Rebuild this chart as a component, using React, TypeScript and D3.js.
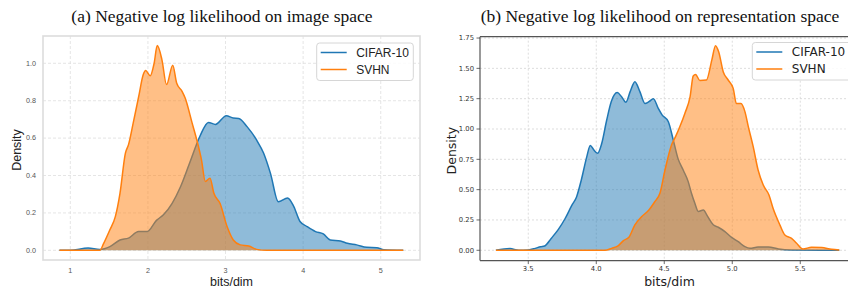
import * as d3 from "d3";

// ---- data ----
// (a) image space
const imgCifarX = [0.86, 1.0, 1.23, 1.38, 1.51, 1.64, 1.75, 1.88, 1.99, 2.11, 2.2, 2.31, 2.42, 2.54, 2.67, 2.78, 2.87, 3.01, 3.1, 3.17, 3.28, 3.4, 3.49, 3.58, 3.68, 3.8, 3.88, 3.96, 4.05, 4.16, 4.26, 4.35, 4.48, 4.57, 4.69, 4.82, 4.95, 5.04, 5.29];
const imgCifarY = [0.0, 0.0, 0.012, 0.005, 0.02, 0.055, 0.065, 0.1, 0.1, 0.16, 0.19, 0.25, 0.34, 0.47, 0.61, 0.684, 0.673, 0.72, 0.707, 0.705, 0.66, 0.59, 0.52, 0.41, 0.26, 0.28, 0.234, 0.154, 0.127, 0.1, 0.0875, 0.055, 0.05, 0.0375, 0.029, 0.016, 0.014, 0.003, 0.0];
const imgSvhnX = [0.86, 1.2, 1.38, 1.43, 1.51, 1.58, 1.64, 1.71, 1.75, 1.81, 1.88, 1.94, 1.97, 2.03, 2.08, 2.12, 2.18, 2.24, 2.32, 2.37, 2.44, 2.48, 2.57, 2.63, 2.69, 2.74, 2.8, 2.85, 2.93, 3.02, 3.1, 3.19, 3.3, 3.4, 3.53, 4.0, 5.29];
const imgSvhnY = [0.0, 0.0, 0.0, 0.0375, 0.11, 0.18, 0.305, 0.52, 0.565, 0.68, 0.82, 0.94, 0.962, 0.934, 1.0, 1.095, 1.02, 0.886, 0.99, 0.895, 0.85, 0.814, 0.68, 0.59, 0.484, 0.368, 0.386, 0.305, 0.25, 0.127, 0.055, 0.029, 0.023, 0.005, 0.0, 0.0, 0.0];
const imgXTicks = [1, 2, 3, 4, 5];
const imgYTicks = [0.0, 0.2, 0.4, 0.6, 0.8, 1.0];

// (b) representation space
const repCifarX = [3.262, 3.365, 3.43, 3.5, 3.55, 3.59, 3.62, 3.67, 3.72, 3.77, 3.82, 3.855, 3.89, 3.93, 3.956, 3.98, 4.01, 4.04, 4.076, 4.11, 4.154, 4.186, 4.218, 4.25, 4.284, 4.32, 4.358, 4.387, 4.42, 4.456, 4.485, 4.53, 4.566, 4.6, 4.64, 4.676, 4.7, 4.725, 4.75, 4.787, 4.82, 4.86, 4.897, 4.946, 4.995, 5.044, 5.093, 5.13, 5.19, 5.265, 5.34, 5.436, 5.787];
const repCifarY = [0.0, 0.014, 0.0, 0.003, 0.016, 0.03, 0.036, 0.1, 0.17, 0.26, 0.37, 0.44, 0.58, 0.77, 0.865, 0.83, 0.8, 0.88, 1.07, 1.225, 1.3, 1.266, 1.22, 1.31, 1.39, 1.31, 1.21, 1.225, 1.25, 1.17, 1.115, 1.06, 0.91, 0.76, 0.66, 0.566, 0.47, 0.387, 0.32, 0.332, 0.277, 0.21, 0.19, 0.154, 0.107, 0.071, 0.03, 0.016, 0.027, 0.027, 0.011, 0.003, 0.0];
const repSvhnX = [3.262, 3.8, 4.064, 4.113, 4.16, 4.2, 4.24, 4.284, 4.333, 4.387, 4.43, 4.468, 4.505, 4.554, 4.583, 4.615, 4.652, 4.69, 4.713, 4.73, 4.762, 4.81, 4.85, 4.877, 4.9, 4.934, 4.97, 5.007, 5.03, 5.064, 5.093, 5.118, 5.154, 5.19, 5.228, 5.27, 5.3, 5.35, 5.387, 5.436, 5.473, 5.52, 5.583, 5.657, 5.73, 5.787];
const repSvhnY = [0.0, 0.0, 0.0, 0.016, 0.036, 0.08, 0.107, 0.21, 0.277, 0.332, 0.4, 0.47, 0.66, 0.87, 0.937, 1.02, 1.13, 1.267, 1.437, 1.45, 1.4, 1.404, 1.57, 1.687, 1.637, 1.47, 1.404, 1.335, 1.21, 1.21, 1.143, 1.02, 0.854, 0.662, 0.538, 0.456, 0.346, 0.21, 0.126, 0.099, 0.058, 0.011, 0.025, 0.022, 0.008, 0.003];
const repXTicks = [3.5, 4.0, 4.5, 5.0, 5.5];
const repYTicks = [0.0, 0.25, 0.5, 0.75, 1.0, 1.25, 1.5, 1.75];

const seriesNames = ["CIFAR-10", "SVHN"];
const BLUE = "#1f77b4";
const ORANGE = "#ff7f0e";

type Pt = [number, number];
const zip = (xs: number[], ys: number[]): Pt[] => xs.map((x, i) => [x, ys[i]]);

function Panel(props: any) {
  const {
    left, right, top, bottom, xDomain, yDomain, xTicks, yTicks, xFmt, yFmt,
    series, font, tickFont, tickColor, tickSize, framed, legendX, legendY, legendW, labelX, labelY, xTickY,
  } = props;
  const x = d3.scaleLinear().domain(xDomain).range([left, right]);
  const y = d3.scaleLinear().domain(yDomain).range([bottom, top]);
  const area = d3.area<Pt>().x(d => x(d[0])).y0(y(0)).y1(d => y(d[1])).curve(d3.curveMonotoneX);
  const line = d3.line<Pt>().x(d => x(d[0])).y(d => y(d[1])).curve(d3.curveMonotoneX);
  const cols = [BLUE, ORANGE];
  const gridCol = framed ? "#dedede" : "#d4d4d4";
  const dash = framed ? "3,2" : "2,2";

  return (
    <g>
      <rect x={left} y={top} width={right - left} height={bottom - top} fill="#fff" />
      {xTicks.map((t: number) => (
        <line key={"gx" + t} x1={x(t)} x2={x(t)} y1={top} y2={bottom}
          stroke={gridCol} strokeWidth={0.8} strokeDasharray={dash} />
      ))}
      {yTicks.map((t: number) => (
        <line key={"gy" + t} x1={left} x2={right} y1={y(t)} y2={y(t)}
          stroke={gridCol} strokeWidth={0.8} strokeDasharray={dash} />
      ))}
      {series.map((s: Pt[], i: number) => (
        <g key={"s" + i}>
          <path d={area(s) || ""} fill={cols[i]} fillOpacity={0.5} />
          <path d={line(s) || ""} fill="none" stroke={cols[i]} strokeWidth={1.5} />
        </g>
      ))}
      {framed ? (
        <rect x={left} y={top} width={right - left} height={bottom - top} fill="none" stroke="#dcdcdc" strokeWidth={1.6} />
      ) : (
        <g stroke="#555" strokeWidth={1.2}>
          <line x1={left} x2={left} y1={top} y2={bottom} />
          <line x1={left} x2={right} y1={top} y2={top} />
          <line x1={left} x2={right} y1={bottom} y2={bottom} />
          <line x1={right} x2={right} y1={top} y2={bottom} />
        </g>
      )}
      {!framed && xTicks.map((t: number) => (
        <line key={"tx" + t} x1={x(t)} x2={x(t)} y1={bottom} y2={bottom + 3.5} stroke="#444" strokeWidth={0.8} />
      ))}
      {!framed && yTicks.map((t: number) => (
        <line key={"ty" + t} x1={left - 3.5} x2={left} y1={y(t)} y2={y(t)} stroke="#444" strokeWidth={0.8} />
      ))}
      {xTicks.map((t: number) => (
        <text key={"lx" + t} x={x(t)} y={xTickY} textAnchor="middle" fontFamily={tickFont}
          fontSize={tickSize} fill={tickColor}>{xFmt(t)}</text>
      ))}
      {yTicks.map((t: number) => (
        <text key={"ly" + t} x={left - (framed ? 7 : 6)} y={y(t)} dy="0.33em" textAnchor="end" fontFamily={tickFont}
          fontSize={tickSize} fill={tickColor}>{yFmt(t)}</text>
      ))}
      <text x={labelX} y={(top + bottom) / 2 + 2} transform={`rotate(-90 ${labelX} ${(top + bottom) / 2 + 2})`}
        textAnchor="middle" dy="0.35em" fontFamily={font} fontSize={12.5} fill="#222">Density</text>
      <text x={(left + right) / 2} y={labelY} textAnchor="middle" fontFamily={font} fontSize={12.5} fill="#222">bits/dim</text>
      <rect x={legendX} y={legendY} width={legendW} height={37.5} rx={3} fill="#fff" fillOpacity={0.85}
        stroke="#d6d6d6" strokeWidth={1} />
      {seriesNames.map((n, i) => (
        <g key={"lg" + n}>
          <line x1={legendX + 4} x2={legendX + 30} y1={legendY + 9.5 + i * 17} y2={legendY + 9.5 + i * 17}
            stroke={cols[i]} strokeWidth={1.5} />
          <text x={legendX + 39.5} y={legendY + 9.5 + i * 17} dy="0.36em" fontFamily={font} fontSize={12}
            fill="#222">{n}</text>
        </g>
      ))}
    </g>
  );
}

export default function App() {
  const fmt1 = d3.format(".1f");
  const fmt2 = d3.format(".2f");
  return (
    <>
      <style>{`body{margin:0;background:#fff}`}</style>
      <svg width={848} height={291} style={{ display: "block" }}>
        <rect width={848} height={291} fill="#fff" />
        <text x={222} y={21.5} textAnchor="middle" fontFamily="Liberation Serif, Times New Roman, serif"
          fontSize={17.5} fill="#111">(a) Negative log likelihood on image space</text>
        <text x={660} y={21.5} textAnchor="middle" fontFamily="Liberation Serif, Times New Roman, serif"
          fontSize={17.5} fill="#111">(b) Negative log likelihood on representation space</text>
        <Panel
          left={43} right={420} top={36} bottom={260}
          xDomain={[0.648, 5.506]} yDomain={[-0.0518, 1.146]}
          xTicks={imgXTicks} yTicks={imgYTicks} xFmt={d3.format("d")} yFmt={fmt1}
          series={[zip(imgCifarX, imgCifarY), zip(imgSvhnX, imgSvhnY)]}
          font="Liberation Sans, Arial, sans-serif" tickFont="Liberation Sans, Arial, sans-serif" tickColor="#555"
          tickSize={7.2}
          framed={true} legendX={316.7} legendY={43} legendW={96.6} labelX={17} labelY={285.5} xTickY={272.5}
        />
        <Panel
          left={480} right={859} top={36.7} bottom={260.6}
          xDomain={[3.145, 5.932]} yDomain={[-0.085, 1.761]}
          xTicks={repXTicks} yTicks={repYTicks} xFmt={fmt1} yFmt={fmt2}
          series={[zip(repCifarX, repCifarY), zip(repSvhnX, repSvhnY)]}
          font="DejaVu Sans, sans-serif" tickFont="DejaVu Sans, sans-serif" tickColor="#333"
          tickSize={6.8}
          framed={false} legendX={752.3} legendY={42.5} legendW={110} labelX={451.5} labelY={286} xTickY={271}
        />
      </svg>
    </>
  );
}
